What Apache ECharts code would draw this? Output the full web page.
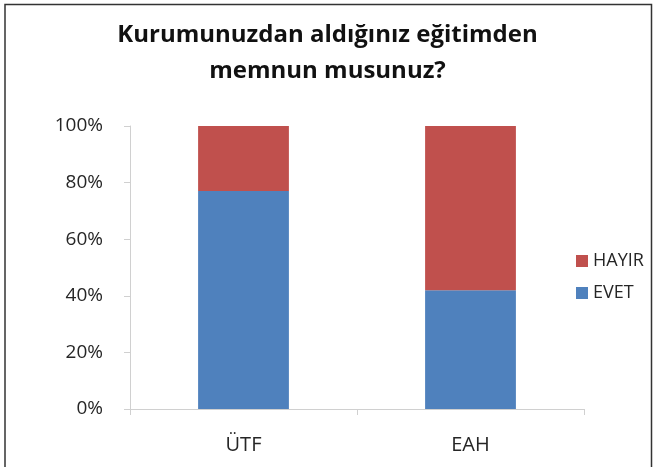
<!DOCTYPE html>
<html><head><meta charset="utf-8">
<script src="https://cdn.jsdelivr.net/npm/echarts@6/dist/echarts.min.js"></script>
<style>html,body{margin:0;padding:0;background:#fff}#c{width:655px;height:467px}</style>
</head><body><div id="c"></div>
<script>
const categories = ['ÜTF', 'EAH'];
const evet = [77, 42];
const hayir = [23, 58];
const yTicks = [0, 20, 40, 60, 80, 100];

const chart = echarts.init(document.getElementById('c'), null, {renderer: 'canvas'});
const font = '"Open Sans", "Noto Sans", sans-serif';
chart.setOption({
  animation: false,
  backgroundColor: '#fff',
  title: {
    text: 'Kurumunuzdan aldığınız eğitimden\nmemnun musunuz?',
    left: 'center', top: 12,
    textStyle: {fontFamily: font, fontSize: 24, fontWeight: 'bold', color: '#111', lineHeight: 36}
  },
  graphic: [{
    type: 'polyline', silent: true,
    shape: {points: [[5, 467], [5, 4.5], [651.5, 4.5], [651.5, 467]]},
    style: {stroke: '#333', lineWidth: 1.5, fill: null}
  }],
  legend: {
    data: ['HAYIR', 'EVET'], orient: 'vertical', left: 571, top: 247,
    itemWidth: 12, itemHeight: 12, itemGap: 14, icon: 'rect',
    textStyle: {fontFamily: font, fontSize: 18, color: '#262626'}
  },
  grid: {left: 130, right: 71, top: 126, bottom: 58},
  xAxis: {
    type: 'category', data: categories,
    axisLine: {lineStyle: {color: '#d0d0d0'}},
    axisTick: {show: true, length: 6, lineStyle: {color: '#d0d0d0'}},
    axisLabel: {fontFamily: font, fontSize: 20, color: '#262626', margin: 26}
  },
  yAxis: {
    type: 'value', min: 0, max: 100, interval: 20,
    axisLine: {show: true, lineStyle: {color: '#d0d0d0'}},
    axisTick: {show: true, length: 6, lineStyle: {color: '#d0d0d0'}},
    splitLine: {show: false},
    axisLabel: {fontFamily: font, fontSize: 19, color: '#262626', margin: 27,
      formatter: v => yTicks.includes(v) ? v + '%' : ''}
  },
  series: [
    {name: 'EVET', type: 'bar', stack: 's', data: evet, barWidth: '40%',
     itemStyle: {color: '#4F81BD'}},
    {name: 'HAYIR', type: 'bar', stack: 's', data: hayir, barWidth: '40%',
     itemStyle: {color: '#C0504D'}}
  ]
});
</script></body></html>
